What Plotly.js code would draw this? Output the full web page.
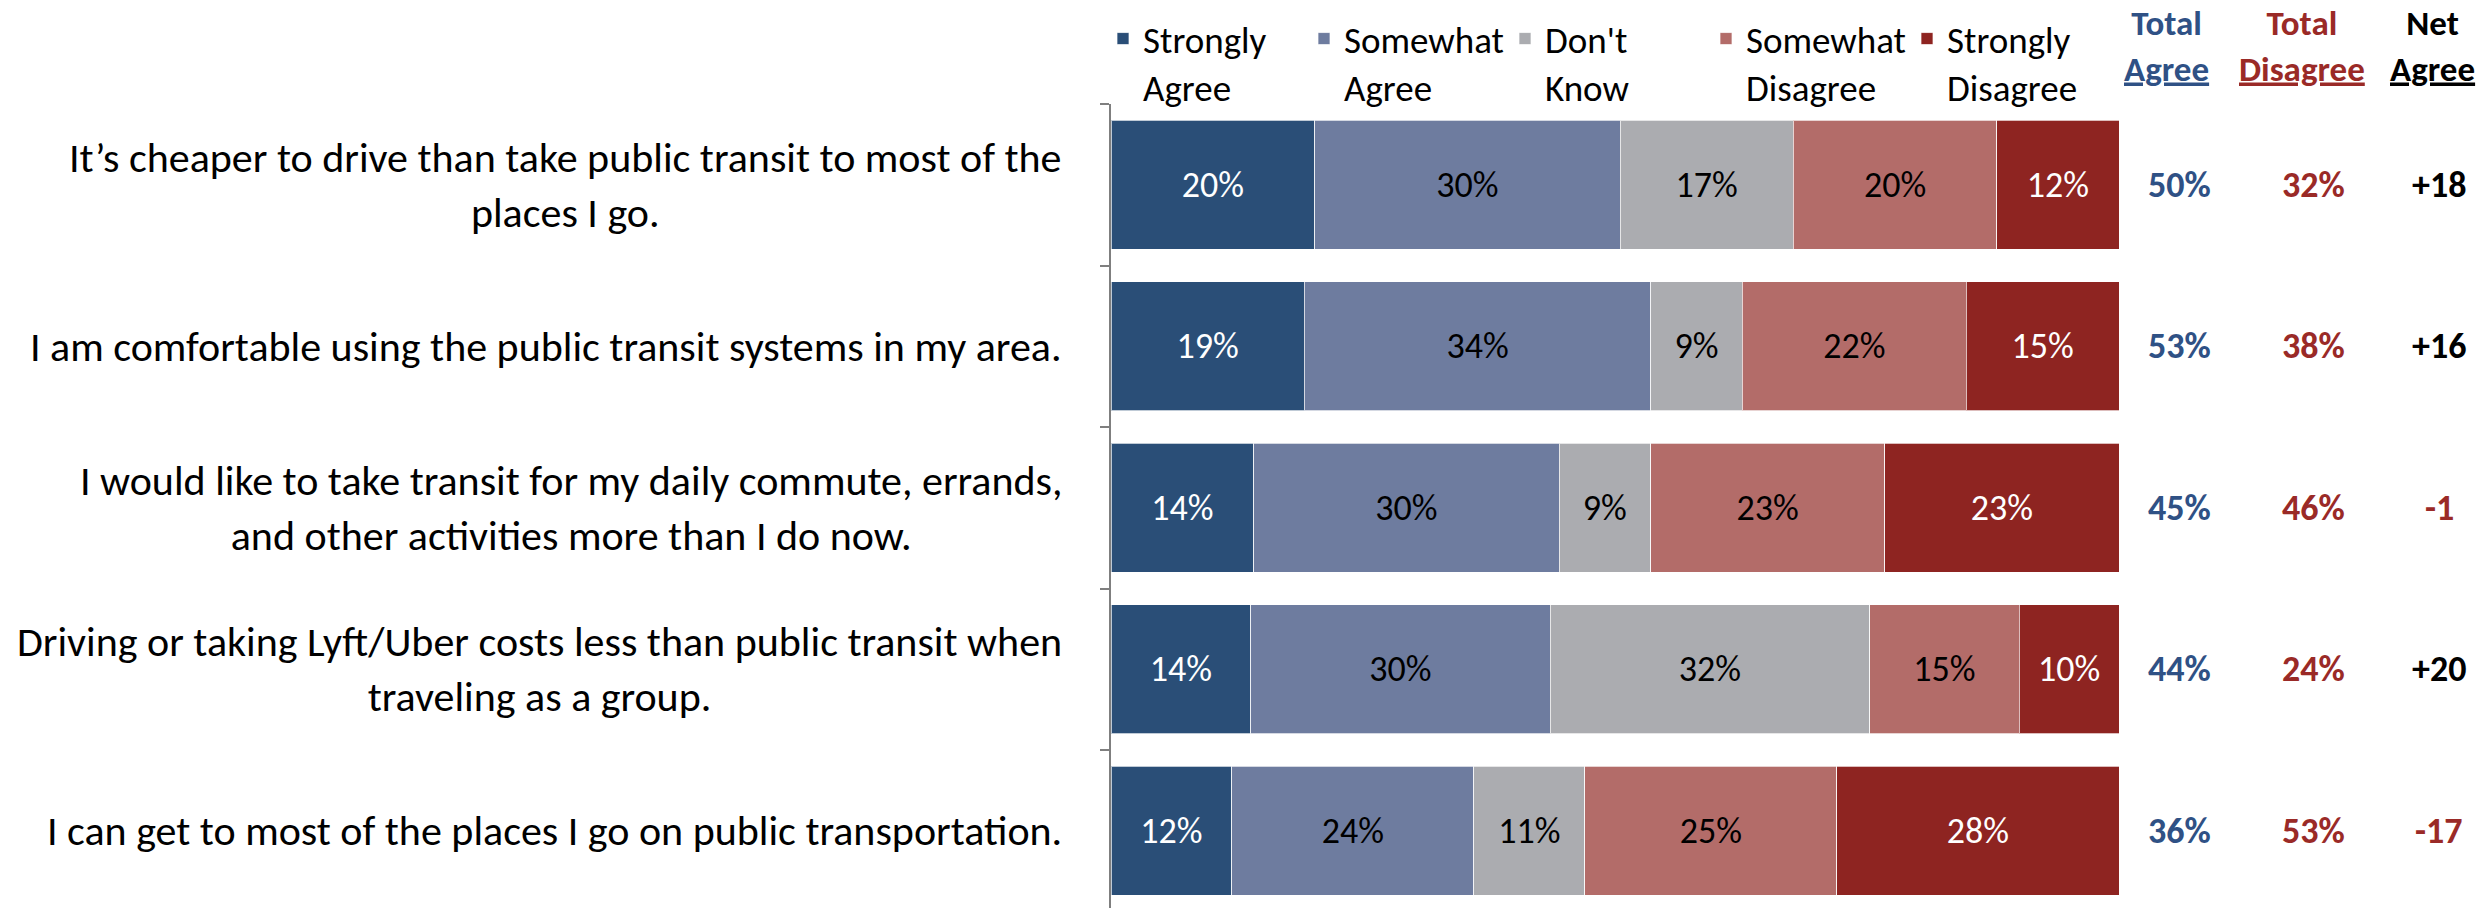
<!DOCTYPE html>
<html><head><meta charset="utf-8">
<script src="https://cdn.plot.ly/plotly-3.0.1.min.js"></script>
<style>html,body{margin:0;padding:0;background:#fff}#chart{width:2483px;height:908px}</style>
</head><body><div id="chart"></div>
<script>
const statements = [
  "It’s cheaper to drive than take public transit to most of the<br>places I go.",
  "I am comfortable using the public transit systems in my area.",
  "I would like to take transit for my daily commute, errands,<br>and other activities more than I do now.",
  "Driving or taking Lyft/Uber costs less than public transit when<br>traveling as a group.",
  "I can get to most of the places I go on public transportation."
];
const seriesNames = ["Strongly<br>Agree", "Somewhat<br>Agree", "Don't<br>Know", "Somewhat<br>Disagree", "Strongly<br>Disagree"];
const stronglyAgree    = [20, 19, 14, 14, 12];
const somewhatAgree    = [30, 34, 30, 30, 24];
const dontKnow         = [17,  9,  9, 32, 11];
const somewhatDisagree = [20, 22, 23, 15, 25];
const stronglyDisagree = [12, 15, 23, 10, 28];
const totalAgree    = [50, 53, 45, 44, 36];
const totalDisagree = [32, 38, 46, 24, 53];
const netAgree      = [18, 16, -1, 20, -17];
const headerTop    = ["Total", "Total", "Net"];
const headerBottom = ["Agree", "Disagree", "Agree"];

const FONT = "Carlito, Calibri, 'Liberation Sans Narrow', Lato, sans-serif";
const seriesColors = ['#2A4E77', '#6E7C9F', '#ABACB0', '#B36C69', '#8E2421'];
const labelColors = ['#ffffff', '#000000', '#000000', '#000000', '#ffffff'];
const blue = '#2F5185', red = '#9A2A27';

// plot area spans 1111..2463 px; bars fill 0..100 which ends at 2119 px
const L = 1111, R = 2463, W = R - L, BAR_END = 2119;
const xMax = 100 * W / (BAR_END - L);
const px = p => (p - L) / W;

const seriesValues = [stronglyAgree, somewhatAgree, dontKnow, somewhatDisagree, stronglyDisagree];
const traces = seriesValues.map((vals, k) => ({
  type: 'bar', orientation: 'h',
  name: seriesNames[k],
  y: statements, x: vals,
  text: vals.map(v => v + '%'),
  texttemplate: '%{text}',
  textposition: 'inside', insidetextanchor: 'middle', constraintext: 'none',
  textangle: 0,
  textfont: {family: FONT, size: 36, color: labelColors[k]},
  marker: {color: seriesColors[k], line: {color: 'rgba(255,255,255,0.7)', width: 1}},
  hoverinfo: 'skip'
}));

const annotations = [];
statements.forEach((s, i) => {
  annotations.push({xref: 'paper', yref: 'y', x: 0, xshift: -47, y: s, text: s,
    xanchor: 'right', yanchor: 'middle', align: 'center', showarrow: false,
    font: {family: FONT, size: 42, color: '#000'}});
  annotations.push({xref: 'paper', yref: 'y', x: px(2179), y: s, text: '<b>' + totalAgree[i] + '%</b>',
    xanchor: 'center', showarrow: false, font: {family: FONT, size: 36, color: blue}});
  annotations.push({xref: 'paper', yref: 'y', x: px(2313), y: s, text: '<b>' + totalDisagree[i] + '%</b>',
    xanchor: 'center', showarrow: false, font: {family: FONT, size: 36, color: red}});
  const n = netAgree[i];
  annotations.push({xref: 'paper', yref: 'y', x: px(2439), y: s, text: '<b>' + (n > 0 ? '+' + n : String(n)) + '</b>',
    xanchor: 'center', showarrow: false, font: {family: FONT, size: 36, color: n < 0 ? red : '#000'}});
});
const headerX = [2166, 2302, 2432];
const headerColors = [blue, red, '#000'];
headerTop.forEach((h, j) => {
  annotations.push({xref: 'paper', yref: 'paper', x: px(headerX[j]), y: 1 + (104 - 46) / 804,
    text: '<b>' + h + '<br><u>' + headerBottom[j] + '</u></b>', xanchor: 'center', yanchor: 'middle',
    align: 'center', showarrow: false,
    font: {family: FONT, size: 35, color: headerColors[j]}});
});

const layout = {
  width: 2483, height: 908,
  margin: {l: L, r: 2483 - R, t: 104, b: 0, pad: 0},
  paper_bgcolor: '#fff', plot_bgcolor: '#fff',
  barmode: 'stack', barnorm: 'percent', bargap: 0.2,
  font: {family: FONT, color: '#000'},
  xaxis: {range: [0, xMax], visible: false, fixedrange: true},
  yaxis: {type: 'category', range: [4.478, -0.5], showticklabels: false,
    showline: true, linecolor: '#7F7F7F', linewidth: 2,
    ticks: 'outside', tickson: 'boundaries', ticklen: 9, tickwidth: 2, tickcolor: '#7F7F7F',
    showgrid: false, zeroline: false, fixedrange: true},
  showlegend: true,
  legend: {orientation: 'h', x: -8 / W, xanchor: 'left', y: 1 + (104 - 8) / 804, yanchor: 'top',
    valign: 'top', traceorder: 'normal', entrywidth: 156, entrywidthmode: 'pixels',
    itemwidth: 30, font: {family: FONT, size: 37, color: '#000'}, bgcolor: 'rgba(0,0,0,0)'},
  annotations: annotations
};
Plotly.newPlot('chart', traces, layout, {staticPlot: true, displayModeBar: false});
</script></body></html>
